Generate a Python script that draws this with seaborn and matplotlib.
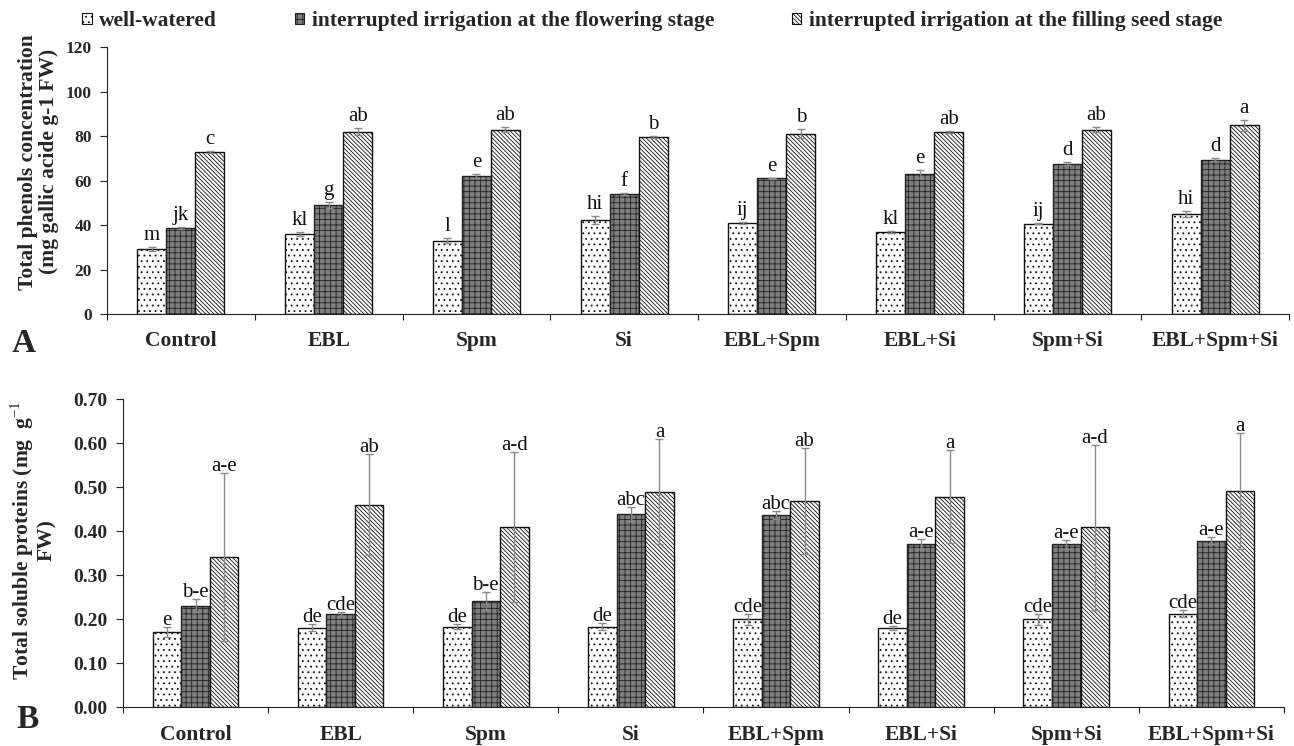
import matplotlib
matplotlib.use("Agg")
import matplotlib.pyplot as plt
import matplotlib.patches as mpatches
import pandas as pd
import seaborn as sns

# ---- data -------------------------------------------------------------
treatments = ["Control", "EBL", "Spm", "Si", "EBL+Spm", "EBL+Si", "Spm+Si", "EBL+Spm+Si"]
regimes = ["well-watered",
           "interrupted irrigation at the flowering stage",
           "interrupted irrigation at the filling seed stage"]

phenols_ww = [29.3, 36.0, 33.0, 42.2, 41.0, 37.0, 40.6, 45.0]
phenols_fl = [38.6, 49.0, 62.0, 54.0, 61.0, 63.0, 67.7, 69.5]
phenols_fs = [73.0, 82.0, 83.0, 79.6, 81.2, 82.0, 83.0, 85.0]
phenols_ww_se = [0.8, 0.8, 1.0, 1.8, 0.3, 0.5, 0.3, 1.3]
phenols_fl_se = [0.5, 1.5, 1.0, 0.3, 0.2, 1.8, 0.8, 0.5]
phenols_fs_se = [0.5, 1.5, 1.0, 0.3, 2.0, 0.5, 1.0, 2.5]
phenols_ww_let = ["m", "kl", "l", "hi", "ij", "kl", "ij", "hi"]
phenols_fl_let = ["jk", "g", "e", "f", "e", "e", "d", "d"]
phenols_fs_let = ["c", "ab", "ab", "b", "b", "ab", "ab", "a"]

proteins_ww = [0.171, 0.181, 0.183, 0.183, 0.200, 0.180, 0.200, 0.213]
proteins_fl = [0.231, 0.211, 0.241, 0.440, 0.437, 0.371, 0.370, 0.378]
proteins_fs = [0.341, 0.460, 0.410, 0.490, 0.469, 0.479, 0.409, 0.492]
proteins_ww_se = [0.012, 0.008, 0.006, 0.008, 0.012, 0.004, 0.012, 0.008]
proteins_fl_se = [0.014, 0.005, 0.020, 0.016, 0.010, 0.011, 0.010, 0.008]
proteins_fs_se = [0.191, 0.115, 0.171, 0.120, 0.120, 0.105, 0.187, 0.132]
proteins_ww_let = ["e", "de", "de", "de", "cde", "de", "cde", "cde"]
proteins_fl_let = ["b-e", "cde", "b-e", "abc", "abc", "a-e", "a-e", "a-e"]
proteins_fs_let = ["a-e", "ab", "a-d", "a", "ab", "a", "a-d", "a"]

# ---- style ------------------------------------------------------------
sns.set_style("ticks")
plt.rcParams["font.family"] = ["Liberation Serif", "DejaVu Serif"]
plt.rcParams["mathtext.fontset"] = "custom"
plt.rcParams["mathtext.rm"] = "Liberation Serif"
plt.rcParams["hatch.linewidth"] = 0.6

bar_styles = [
    dict(facecolor="white", hatch="...", edgecolor="#111111"),
    dict(facecolor="#7e7e7e", hatch="+++", edgecolor="#222222"),
    dict(facecolor="white", hatch="\\\\\\\\\\\\\\\\", edgecolor="#111111"),
]


def draw_panel(ax, series, errors, letters, ylim, yticks, fmt, ylabel,
               label_coords, tick_size, let_off):
    records = []
    for regime, vals in zip(regimes, series):
        for t, v in zip(treatments, vals):
            records.append({"treatment": t, "regime": regime, "value": v})
    df = pd.DataFrame(records)
    sns.barplot(data=df, x="treatment", y="value", hue="regime",
                order=treatments, hue_order=regimes, errorbar=None,
                width=0.59, palette=["white", "#7e7e7e", "white"],
                saturation=1, linewidth=1.0, edgecolor="#111111",
                legend=False, ax=ax)
    for cont, style, vals, errs, lets in zip(ax.containers, bar_styles,
                                              series, errors, letters):
        for bar, v, e, lab in zip(cont, vals, errs, lets):
            bar.set_facecolor(style["facecolor"])
            bar.set_hatch(style["hatch"])
            bar.set_edgecolor(style["edgecolor"])
            cx = bar.get_x() + bar.get_width() / 2
            ax.errorbar(cx, v, yerr=e, color="#8a8a8a", elinewidth=1.0,
                        capsize=3, capthick=1.0, zorder=5)
            ax.annotate(lab, (cx, v + e), xytext=(0, let_off),
                        textcoords="offset points", ha="center",
                        va="baseline", fontsize=15, color="#111111")

    ax.set_xlim(-0.5, len(treatments) - 0.5)
    ax.set_ylim(*ylim)
    ax.set_yticks(yticks)
    ax.set_yticklabels([fmt.format(t) for t in yticks],
                       fontsize=tick_size, fontweight="bold")
    ax.set_xticks([i - 0.5 for i in range(len(treatments) + 1)])
    ax.set_xticklabels([])
    ax.set_xticks(range(len(treatments)), minor=True)
    ax.set_xticklabels(treatments, minor=True, fontsize=15.5, fontweight="bold")
    ax.tick_params(axis="x", which="major", direction="out", length=4.5,
                   width=0.8, color="#222222")
    ax.tick_params(axis="x", which="minor", length=0, pad=12.5)
    ax.tick_params(axis="y", direction="out", length=5, width=0.8,
                   pad=6, color="#222222")
    ax.set_xlabel("")
    ax.set_ylabel(ylabel, fontsize=15.5, fontweight="bold", linespacing=1.05)
    ax.yaxis.set_label_coords(*label_coords)
    sns.despine(ax=ax)
    for s in ("left", "bottom"):
        ax.spines[s].set_linewidth(0.8)
        ax.spines[s].set_color("#222222")


fig = plt.figure(figsize=(12.94, 7.46), dpi=100)
ax_a = fig.add_axes([0.08269, 0.57909, 0.91345, 0.35751])
ax_b = fig.add_axes([0.09505, 0.05188, 0.89722, 0.41287])

draw_panel(ax_a,
           [phenols_ww, phenols_fl, phenols_fs],
           [phenols_ww_se, phenols_fl_se, phenols_fs_se],
           [phenols_ww_let, phenols_fl_let, phenols_fs_let],
           (0, 120), list(range(0, 121, 20)), "{:d}",
           "Total phenols concentration\n(mg gallic acide g-1 FW)",
           (-0.041, 0.571), 12.5, 5)

draw_panel(ax_b,
           [proteins_ww, proteins_fl, proteins_fs],
           [proteins_ww_se, proteins_fl_se, proteins_fs_se],
           [proteins_ww_let, proteins_fl_let, proteins_fs_let],
           (0, 0.70), [i / 10 for i in range(8)], "{:.2f}",
           "Total soluble proteins (mg  g$^{-1}$\nFW)",
           (-0.057, 0.543), 14, 1.5)

fig.text(12 / 1294, 1 - 343 / 746, "A", fontsize=24, fontweight="bold",
         ha="left", va="center")
fig.text(16 / 1294, 1 - 720 / 746, "B", fontsize=24, fontweight="bold",
         ha="left", va="center")

handles = [mpatches.Patch(facecolor=s["facecolor"], hatch=s["hatch"],
                          edgecolor=s["edgecolor"], linewidth=0.8)
           for s in bar_styles]
fig.legend(handles, regimes, loc="upper left",
           bbox_to_anchor=(82 / 1294, 1 - 11 / 746), ncol=3, frameon=False,
           borderpad=0, borderaxespad=0, handlelength=0.45, handleheight=0.45,
           handletextpad=0.35, columnspacing=3.6,
           prop={"size": 15.5, "weight": "bold"})

fig.savefig("out.png", dpi=100, facecolor="white")
